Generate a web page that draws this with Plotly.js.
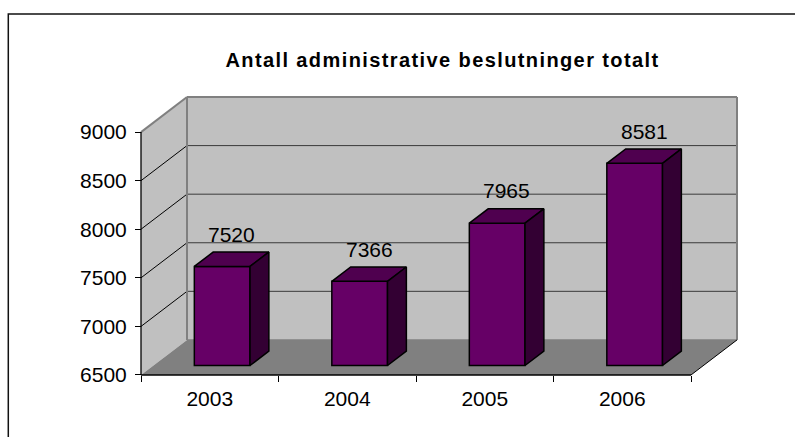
<!DOCTYPE html>
<html>
<head>
<meta charset="utf-8">
<script src="https://cdn.plot.ly/plotly-3.0.1.min.js"></script>
<style>
  html, body { margin: 0; padding: 0; background: #fff; }
  #chart { width: 795px; height: 437px; }
  .gtitle { letter-spacing: 1.4px; }
</style>
</head>
<body>
<div id="chart"></div>
<script>
// ---- data ----
const years = ['2003', '2004', '2005', '2006'];
const values = [7520, 7366, 7965, 8581];
const yTicks = [6500, 7000, 7500, 8000, 8500, 9000];
const yBase = 6500;

// ---- geometry (pixels) ----
const W = 795, H = 437;
const X0 = 141, Y0 = 375;      // front-left corner of floor
const CAT = 137.5;             // px per category
const K = 0.097;               // px per value unit
const DXP = 46, DYP = 35;      // 3D depth offset in px
const PAD = 10;
const DXu = DXP / CAT, DYu = DYP / K;
const nCat = years.length;
const yTop = yTicks[yTicks.length - 1];

const xr = [-PAD / CAT, nCat + DXu + PAD / CAT];
const yr = [yBase - PAD / K, yTop + DYu + PAD / K];
const l = X0 - PAD;
const pw = (xr[1] - xr[0]) * CAT;
const r = W - l - pw;
const b = H - (Y0 + PAD);
const ph = (yr[1] - yr[0]) * K;
const t = H - b - ph;

// bar depth placement
const f0 = 0.27, fb = 0.41, BW = 0.405;
const sx = f0 * DXu, sy = f0 * DYu, bdx = fb * DXu, bdy = fb * DYu;

function path(pts) {
  return 'M ' + pts.map(p => p[0] + ',' + p[1]).join(' L ') + ' Z';
}
function line(x0, y0, x1, y1, color, width, layer) {
  return {type: 'line', xref: 'x', yref: 'y', x0, y0, x1, y1, layer: layer || 'below',
          line: {color, width}};
}

const FONT = '"Liberation Sans", Arial, sans-serif';
const shapes = [];
// back wall
shapes.push({type: 'path', xref: 'x', yref: 'y', layer: 'below',
  path: path([[DXu, yBase + DYu], [nCat + DXu, yBase + DYu], [nCat + DXu, yTop + DYu], [DXu, yTop + DYu]]),
  fillcolor: '#C0C0C0', line: {width: 0}});
// left wall
shapes.push({type: 'path', xref: 'x', yref: 'y', layer: 'below',
  path: path([[0, yBase], [DXu, yBase + DYu], [DXu, yTop + DYu], [0, yTop]]),
  fillcolor: '#C0C0C0', line: {width: 0}});
// floor
shapes.push({type: 'path', xref: 'x', yref: 'y', layer: 'below',
  path: path([[0, yBase], [nCat, yBase], [nCat + DXu, yBase + DYu], [DXu, yBase + DYu]]),
  fillcolor: '#808080', line: {width: 0}});
// gridlines
yTicks.forEach(v => {
  if (v > yBase && v < yTop) {
    shapes.push(line(DXu, v + DYu, nCat + DXu, v + DYu, '#3a3a3a', 1));
    shapes.push(line(0, v, DXu, v + DYu, '#000', 1));
  }
});
// wall edges (grey)
shapes.push(line(DXu, yBase + DYu, DXu, yTop + DYu, '#808080', 2));
shapes.push(line(nCat + DXu, yBase + DYu, nCat + DXu, yTop + DYu, '#808080', 2));
shapes.push(line(DXu, yTop + DYu, nCat + DXu, yTop + DYu, '#808080', 2));
shapes.push(line(DXu, yBase + DYu, nCat + DXu, yBase + DYu, '#808080', 1.5));
shapes.push(line(0, yTop, DXu, yTop + DYu, '#808080', 2));
// front axis lines (black)
shapes.push(line(0, yBase, 0, yTop, '#000', 1.3));
shapes.push(line(0, yBase, nCat, yBase, '#000', 1.3));
shapes.push(line(nCat, yBase, nCat + DXu, yBase + DYu, '#000', 1));
// outer frame
const pxX = px => (px - l) / pw;
const pxY = py => (H - b - py) / ph;
shapes.push({type: 'rect', xref: 'paper', yref: 'paper', layer: 'above',
  x0: pxX(8.3), x1: pxX(W + 20), y0: pxY(H + 20), y1: pxY(14.7),
  line: {color: '#111', width: 1.5}, fillcolor: 'rgba(0,0,0,0)'});

// ---- traces ----
const centers = years.map((_, i) => i + 0.5);
const traces = [];
traces.push({
  type: 'bar', x: centers.map(c => c + sx), y: values.map(v => v - yBase), base: yBase + sy,
  width: BW, marker: {color: '#660066', line: {color: '#000', width: 1.5}},
  hoverinfo: 'skip', showlegend: false
});
values.forEach((v, i) => {
  const x0 = centers[i] + sx - BW / 2, x1 = centers[i] + sx + BW / 2;
  const yt = v + sy, yb = yBase + sy;
  traces.push({type: 'scatter', mode: 'lines', fill: 'toself', fillcolor: '#4F004F',
    x: [x0, x1, x1 + bdx, x0 + bdx, x0], y: [yt, yt, yt + bdy, yt + bdy, yt],
    line: {color: '#000', width: 1.5}, hoverinfo: 'skip', showlegend: false});
  traces.push({type: 'scatter', mode: 'lines', fill: 'toself', fillcolor: '#330033',
    x: [x1, x1 + bdx, x1 + bdx, x1, x1], y: [yb, yb + bdy, yt + bdy, yt, yb],
    line: {color: '#000', width: 1.5}, hoverinfo: 'skip', showlegend: false});
});

const annotations = values.map((v, i) => ({
  xref: 'x', yref: 'y', x: centers[i] + sx + bdx / 2, y: v + sy + bdy / 2,
  text: String(v), showarrow: false, yshift: 25, yanchor: 'middle', xanchor: 'center',
  font: {family: FONT, size: 21, color: '#000'}
}));

const layout = {
  width: W, height: H,
  margin: {l, r, t, b, pad: 0},
  paper_bgcolor: '#fff', plot_bgcolor: 'rgba(0,0,0,0)',
  showlegend: false,
  title: {text: '<b>Antall administrative beslutninger totalt</b>',
    xref: 'container', yref: 'container', x: 442.5 / W, y: 1 - 60 / H,
    xanchor: 'center', yanchor: 'middle',
    font: {family: FONT, size: 20, color: '#000'}},
  xaxis: {range: xr, anchor: 'free', position: PAD / ph, fixedrange: true,
    tickmode: 'array', tickvals: centers, ticktext: years, ticks: '',
    showgrid: false, zeroline: false, showline: false, automargin: false,
    ticklabelstandoff: 9,
    tickfont: {family: FONT, size: 21, color: '#000'},
    minor: {tickmode: 'array', tickvals: years.map((_, i) => i).concat([nCat]),
      ticks: 'outside', ticklen: 6, tickcolor: '#000', tickwidth: 1, showgrid: false}},
  yaxis: {range: yr, anchor: 'free', position: PAD / pw, fixedrange: true,
    tickmode: 'array', tickvals: yTicks, ticks: 'outside', ticklen: 6, tickcolor: '#000', tickwidth: 1,
    showgrid: false, zeroline: false, showline: false, automargin: false,
    ticklabelstandoff: 4,
    tickfont: {family: FONT, size: 21, color: '#000'}},
  shapes, annotations,
  bargap: 0
};

Plotly.newPlot('chart', traces, layout, {staticPlot: true, displayModeBar: false});
</script>
</body>
</html>
